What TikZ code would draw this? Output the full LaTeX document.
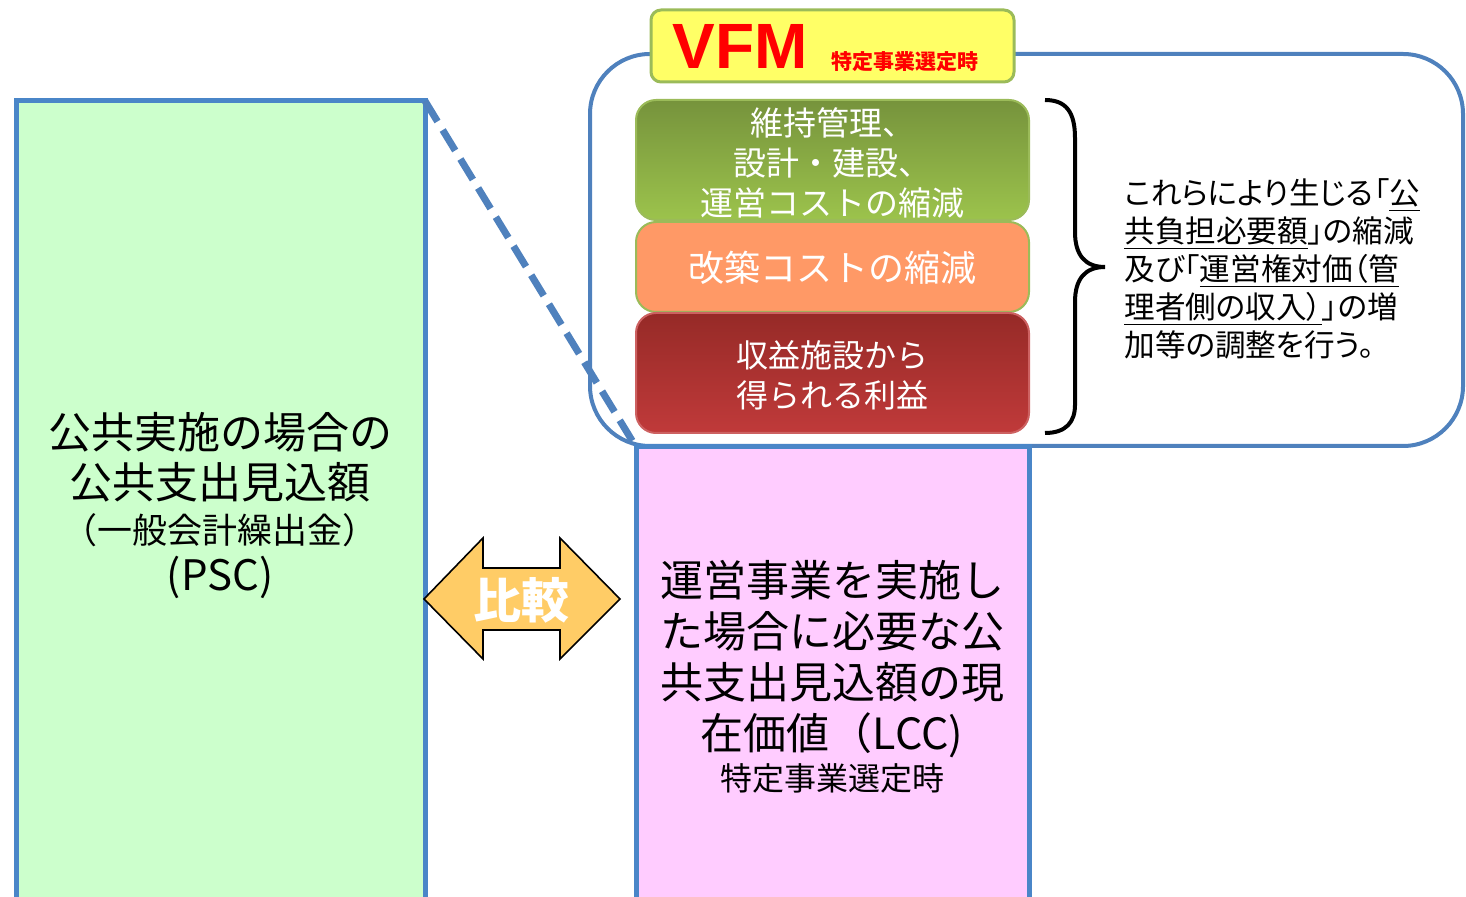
\documentclass[tikz,border=0pt]{standalone}
\usepackage{fontspec}
\setmainfont{Noto Sans CJK JP}
\newfontfamily\pjp[RawFeature=+palt]{Noto Sans CJK JP}
\newfontfamily\lsans{Liberation Sans}
\usetikzlibrary{calc}
\definecolor{boxblue}{HTML}{4A86C8}
\definecolor{callblue}{HTML}{4F81BD}
\definecolor{pscfill}{HTML}{CCFFCC}
\definecolor{lccfill}{HTML}{FFCCFF}
\definecolor{vfmfill}{HTML}{FFFF66}
\definecolor{olive}{HTML}{9BBB59}
\definecolor{greentop}{HTML}{76933C}
\definecolor{greenbot}{HTML}{9CC34C}
\definecolor{orangefill}{HTML}{FF9966}
\definecolor{redtop}{HTML}{962A27}
\definecolor{redbot}{HTML}{C03A3A}
\definecolor{arrowfill}{HTML}{FFCC66}
\tikzset{
  bigbox/.style={draw=boxblue, line width=2.5pt, anchor=north west, inner sep=0pt, outer sep=0pt},
  layer/.style={rounded corners=10pt, line width=1pt, minimum width=196.5pt, inner sep=0pt, align=center, text=white},
  whitetxt/.style={text=white, align=center, inner sep=0pt},
  blacktxt/.style={text=black, align=center, inner sep=0pt},
}
\begin{document}
\begin{tikzpicture}[x=0.5pt,y=-0.5pt]
\useasboundingbox (0,0) rectangle (1466,897);
% callout rounded frame
\draw[callblue, line width=2pt, rounded corners=30pt] (590,54) rectangle (1463,446);
% big boxes
\node[bigbox, fill=pscfill, minimum width=204.5pt, minimum height=405pt] (psc) at (16,101) {};
\node[bigbox, fill=lccfill, minimum width=196.5pt, minimum height=235pt] (lcc) at (636,447) {};
% dashed connector
\draw[callblue, line width=3.5pt, dash pattern=on 12pt off 5pt] (psc.north east) -- (lcc.north west);
% VFM label
\node[draw=olive, fill=vfmfill, line width=1.5pt, rounded corners=5pt, minimum width=181.5pt, minimum height=36pt, inner sep=0pt] (vfm) at (832.5,46) {};
\node[text=red, inner sep=0pt] (vfmtxt) at (740,46) {\lsans\bfseries\fontsize{32}{32}\selectfont VFM};
\node[text=red, inner sep=0pt] (vfmsub) at (905,62) {\bfseries\fontsize{10.5}{11}\selectfont 特定事業選定時};
% layers
\node[layer, draw=olive, top color=greentop, bottom color=greenbot, minimum height=60pt] (g) at (832.5,160) {};
\node[whitetxt, font=\fontsize{16.5}{20}\selectfont] (gt) at (832.5,163) {維持管理、\\設計・建設、\\運営コストの縮減};
\node[layer, draw=olive, fill=orangefill, minimum height=45pt] (o) at (832.5,267) {};
\node[whitetxt, font=\fontsize{18}{20}\selectfont] (ot) at (832.5,268) {改築コストの縮減};
\node[layer, draw=redbot!80!white, top color=redtop, bottom color=redbot, minimum height=60pt] (r) at (832.5,373) {};
\node[whitetxt, font=\fontsize{16}{20}\selectfont] (rt) at (832.5,375) {収益施設から\\得られる利益};
% brace
\coordinate (bt) at (1045,100);
\coordinate (btip) at (1105,267);
\coordinate (bb) at (1045,433);
\draw[black, line width=2pt] (bt) .. controls (1066,100) and (1075,112) .. (1075,138)
  -- (1075,232) .. controls (1075,255) and (1085,267) .. (btip)
  .. controls (1085,267) and (1075,279) .. (1075,302)
  -- (1075,405) .. controls (1075,422) and (1066,433) .. (bb);
% right text
\node[blacktxt, align=left, anchor=west, font=\pjp\fontsize{15.3}{19}\selectfont] (rtext) at (1124,269)
 {これらにより生じる「\underline{公}\\
  \underline{共負担必要額}」の縮減\\
  及び「\underline{運営権対価（管}\\
  \underline{理者側の収入）}」の増\\
  加等の調整を行う。};
% PSC text
\node[blacktxt, font=\fontsize{21.5}{24}\selectfont] (psc1) at (220,432) {公共実施の場合の};
\node[blacktxt, font=\fontsize{21.5}{24}\selectfont] (psc2) at (220,482) {公共支出見込額};
\node[blacktxt, font=\fontsize{17.5}{20}\selectfont] (psc3) at (220,530) {（一般会計繰出金）};
\node[blacktxt, font=\fontsize{21}{24}\selectfont] (psc4) at (220,577) {(PSC)};
% LCC text
\node[blacktxt, font=\fontsize{21.5}{25.5}\selectfont] (lcct) at (832,659) {運営事業を実施し\\た場合に必要な公\\共支出見込額の現\\在価値（LCC)};
\node[blacktxt, font=\fontsize{16}{18}\selectfont] (lccsub) at (832,778) {特定事業選定時};
% comparison arrow
\draw[black, line width=0.8pt, fill=arrowfill, line join=miter]
  (424,599) -- (483,538) -- (483,568) -- (560,568) -- (560,538) -- (620,599)
  -- (560,659) -- (560,630) -- (483,630) -- (483,659) -- cycle;
\node[whitetxt, font=\bfseries\fontsize{24}{26}\selectfont] (cmp) at (521,600) {比較};
\end{tikzpicture}
\end{document}
